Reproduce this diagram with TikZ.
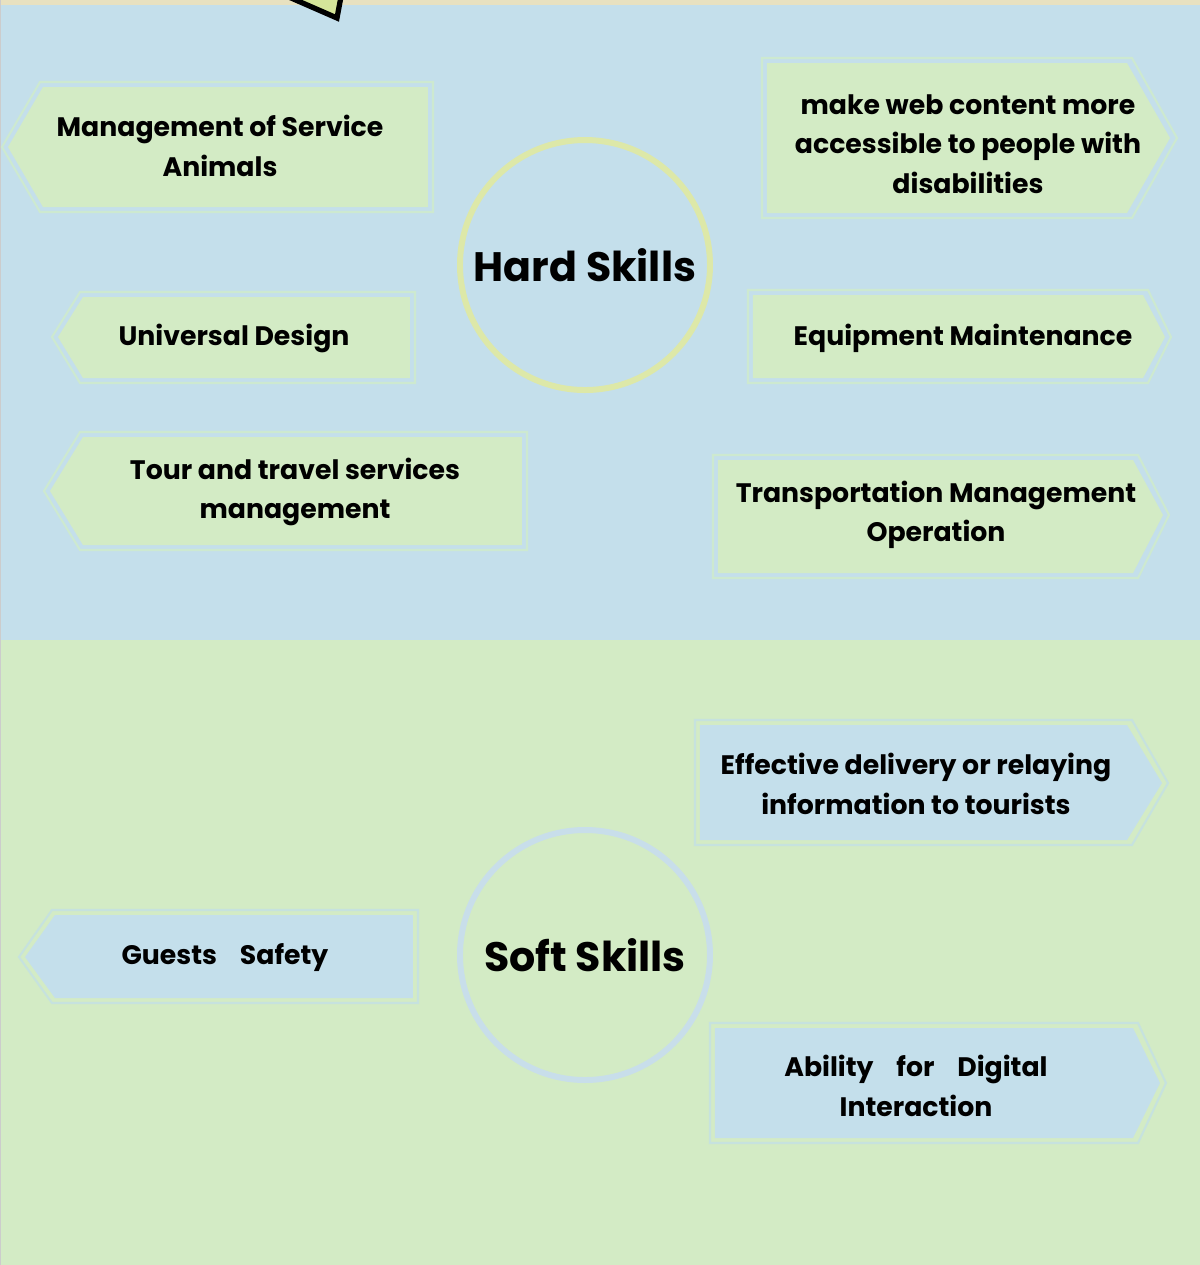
\documentclass[tikz,border=0pt]{standalone}
\usepackage{fontspec}
\setmainfont{Poppins}
\usetikzlibrary{positioning}
\definecolor{hardbg}{RGB}{196,223,235}
\definecolor{softbg}{RGB}{211,235,197}
\definecolor{topstrip}{RGB}{232,225,192}
\definecolor{hardring}{RGB}{221,232,168}
\definecolor{softring}{RGB}{200,222,234}
\definecolor{greenedge}{RGB}{205,233,208}
\definecolor{blueedge}{RGB}{198,226,222}
\definecolor{tagfill}{RGB}{213,229,154}
\newcommand{\wgap}{\hspace{6.5pt}}
\begin{document}
\begin{tikzpicture}[x=0.01cm,y=-0.01cm,
	skill/.style={align=center,font=\fontsize{7.6}{11.2}\selectfont\bfseries},
	title/.style={font=\fontsize{11.7}{13}\selectfont\bfseries},
	greenbox/.style={fill=softbg,draw=greenedge,line width=0.5pt},
	bluebox/.style={fill=hardbg,draw=blueedge,line width=0.5pt}]
		\useasboundingbox (0,0) rectangle (1200,1265);
		% backgrounds
		\fill[hardbg] (0,0) rectangle (1200,640);
		\fill[softbg] (0,640) rectangle (1200,1265);
		\fill[topstrip] (0,0) rectangle (1200,5);
		\draw[gray!40,line width=0.4pt] (0.5,0) -- (0.5,1265);
		\begin{scope}
			\clip (0,0) rectangle (1200,40);
			\filldraw[fill=tagfill,draw=black,line width=1.5pt,line join=miter] (250,-20) -- (337,18) -- (346,-30) -- cycle;
		\end{scope}
		% hard skills
		\draw[hardring,line width=1.7pt] (585,265) circle (125);
		\node[title] (hard) at (585,265) {Hard Skills};
		\draw[greenedge,line width=0.6pt] (433,82) -- (40,82) -- (2,147) -- (40,212) -- (433,212) -- cycle;
		\fill[softbg] (428,87) -- (43,87) -- (8,147) -- (43,207) -- (428,207) -- cycle;
		\node[skill] (animals) at (220,146) {Management of Service\\Animals};
		\draw[greenedge,line width=0.6pt] (762,58) -- (1132,58) -- (1177,138) -- (1132,218) -- (762,218) -- cycle;
		\fill[softbg] (767,63) -- (1127,63) -- (1170,138) -- (1127,213) -- (767,213) -- cycle;
		\node[skill] (web) at (968,144) {make web content more\\accessible to people with\\disabilities};
		\draw[greenedge,line width=0.6pt] (415,292) -- (80,292) -- (52,337) -- (80,383) -- (415,383) -- cycle;
		\fill[softbg] (410,297) -- (83,297) -- (58,337) -- (83,378) -- (410,378) -- cycle;
		\node[skill] (design) at (234,338) {Universal Design};
		\draw[greenedge,line width=0.6pt] (748,290) -- (1148,290) -- (1171,337) -- (1148,383) -- (748,383) -- cycle;
		\fill[softbg] (753,295) -- (1143,295) -- (1165,337) -- (1143,378) -- (753,378) -- cycle;
		\node[skill] (equipment) at (963,338) {Equipment Maintenance};
		\draw[greenedge,line width=0.6pt] (527,432) -- (80,432) -- (44,491) -- (80,550) -- (527,550) -- cycle;
		\fill[softbg] (522,437) -- (83,437) -- (50,491) -- (83,545) -- (522,545) -- cycle;
		\node[skill] (tour) at (295,492) {Tour and travel services\\management};
		\draw[greenedge,line width=0.6pt] (713,455) -- (1138,455) -- (1169,515) -- (1138,578) -- (713,578) -- cycle;
		\fill[softbg] (718,460) -- (1133,460) -- (1163,515) -- (1133,573) -- (718,573) -- cycle;
		\node[skill] (transport) at (936,515) {Transportation Management\\Operation};
		% soft skills
		\draw[softring,line width=1.7pt] (585,955) circle (125);
		\node[title] (soft) at (585,955) {Soft Skills};
		\draw[blueedge,line width=0.6pt] (695,720) -- (1132,720) -- (1168,783) -- (1132,845) -- (695,845) -- cycle;
		\fill[hardbg] (700,725) -- (1127,725) -- (1162,783) -- (1127,840) -- (700,840) -- cycle;
		\node[skill] (delivery) at (916,784) {Effective delivery or relaying\\information to tourists};
		\draw[blueedge,line width=0.6pt] (418,910) -- (52,910) -- (19,957) -- (52,1003) -- (418,1003) -- cycle;
		\fill[hardbg] (413,915) -- (55,915) -- (25,957) -- (55,998) -- (413,998) -- cycle;
		\node[skill] (safety) at (225,958) {Guests\wgap Safety};
		\draw[blueedge,line width=0.6pt] (710,1023) -- (1138,1023) -- (1166,1083) -- (1138,1143) -- (710,1143) -- cycle;
		\fill[hardbg] (715,1028) -- (1133,1028) -- (1160,1083) -- (1133,1138) -- (715,1138) -- cycle;
		\node[skill] (digital) at (916,1086) {Ability\wgap for\wgap Digital\\Interaction};
		\end{tikzpicture}
\end{document}
